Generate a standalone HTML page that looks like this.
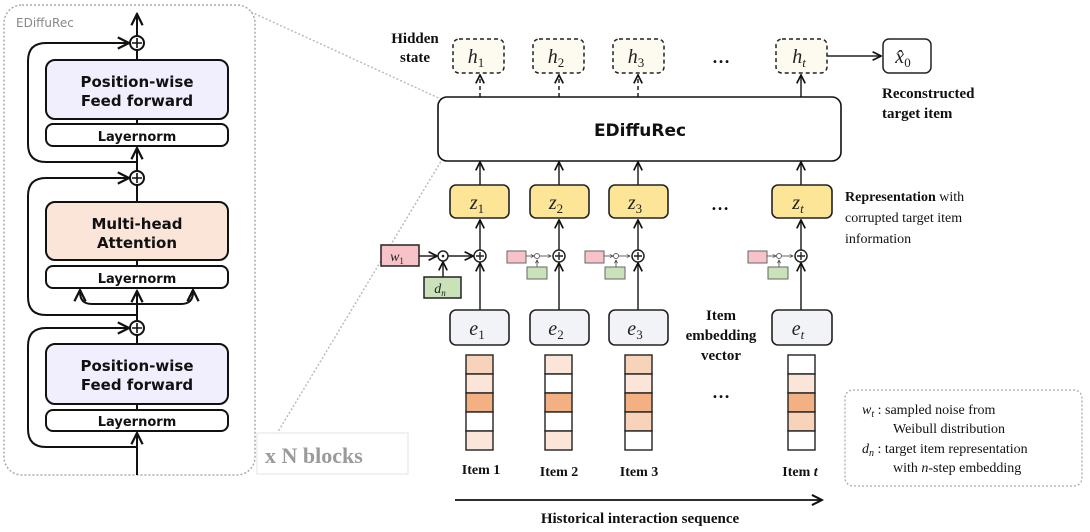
<!DOCTYPE html>
<html><head><meta charset="utf-8"><style>
html,body{margin:0;padding:0;background:#fff;}
svg{display:block;}
.s{font-family:"DejaVu Sans","Liberation Sans",sans-serif;font-weight:bold;fill:#111;}
.t{font-family:"Liberation Serif",serif;fill:#111;}
.b{font-weight:bold;}
.m{font-family:"Liberation Serif",serif;font-style:italic;fill:#222;}
</style></head><body>
<svg width="1090" height="532" viewBox="0 0 1090 532" xmlns="http://www.w3.org/2000/svg">
<defs>
<marker id="a" viewBox="0 0 10 10" refX="9" refY="5" markerWidth="7" markerHeight="7" orient="auto-start-reverse"><path d="M1,1 L9,5 L1,9" fill="none" stroke="#111" stroke-width="1.6"/></marker>
<marker id="as" viewBox="0 0 10 10" refX="9" refY="5" markerWidth="4" markerHeight="4" orient="auto"><path d="M1,1 L9,5 L1,9" fill="none" stroke="#333" stroke-width="1.6"/></marker>
</defs>
<!-- left panel -->
<rect x="4" y="5" width="251" height="470" rx="18" fill="none" stroke="#aaa" stroke-width="1.5" stroke-dasharray="2,2"/>
<text x="16" y="27" font-family="DejaVu Sans,sans-serif" font-size="12" fill="#888">EDiffuRec</text>
<line x1="251" y1="12" x2="443" y2="100" stroke="#bbb" stroke-width="1.5" stroke-dasharray="2,2"/>
<line x1="258" y1="465" x2="443" y2="158" stroke="#bbb" stroke-width="1.5" stroke-dasharray="2,2"/>
<rect x="257" y="433" width="151" height="41" fill="#fff" stroke="#e3e3e3"/>
<text x="265" y="463" class="t b" font-size="22" style="fill:#9a9a9a">x N blocks</text>
<g stroke="#111" stroke-width="2" fill="none">
<line x1="137" y1="475" x2="137" y2="433" marker-end="url(#a)"/>
<line x1="137" y1="410" x2="137" y2="404"/>
<line x1="137" y1="344" x2="137" y2="335"/>
<line x1="137" y1="321" x2="137" y2="291" marker-end="url(#a)"/>
<line x1="137" y1="266" x2="137" y2="260"/>
<line x1="137" y1="202" x2="137" y2="185"/>
<line x1="137" y1="171" x2="137" y2="148" marker-end="url(#a)"/>
<line x1="137" y1="124" x2="137" y2="119"/>
<line x1="137" y1="60" x2="137" y2="50"/>
<line x1="137" y1="36" x2="137" y2="14" marker-end="url(#a)"/>
<path d="M137,447 H46 Q28,447 28,429 V346 Q28,328 46,328 H129" marker-end="url(#a)"/>
<path d="M137,315 H46 Q28,315 28,297 V196 Q28,178 46,178 H129" marker-end="url(#a)"/>
<path d="M137,162 H46 Q28,162 28,144 V61 Q28,43 46,43 H129" marker-end="url(#a)"/>
<path d="M137,304 H92 Q80,304 80,292 V290" marker-end="url(#a)"/>
<path d="M137,304 H181 Q193,304 193,292 V290" marker-end="url(#a)"/>
</g>
<g stroke="#111" stroke-width="2" fill="#fff">
<circle cx="137" cy="43" r="7"/><circle cx="137" cy="178" r="7"/><circle cx="137" cy="328" r="7"/>
</g>
<g stroke="#111" stroke-width="1.6">
<path d="M132,43H142M137,38V48M132,178H142M137,173V183M132,328H142M137,323V333"/>
</g>
<g stroke="#111" stroke-width="2">
<rect x="46" y="60" width="182" height="59" rx="9" fill="#f1effd"/>
<rect x="46" y="124" width="182" height="22" rx="7" fill="#fff"/>
<rect x="46" y="202" width="182" height="58" rx="9" fill="#fbe5d9"/>
<rect x="46" y="266" width="182" height="22" rx="7" fill="#fff"/>
<rect x="46" y="344" width="182" height="60" rx="9" fill="#f1effd"/>
<rect x="46" y="410" width="182" height="21" rx="7" fill="#fff"/>
</g>
<g class="s" text-anchor="middle">
<text x="137" y="87" font-size="15">Position-wise</text><text x="137" y="106" font-size="15">Feed forward</text>
<text x="137" y="141" font-size="13">Layernorm</text>
<text x="137" y="229" font-size="15">Multi-head</text><text x="137" y="248" font-size="15">Attention</text>
<text x="137" y="283" font-size="13">Layernorm</text>
<text x="137" y="371" font-size="15">Position-wise</text><text x="137" y="390" font-size="15">Feed forward</text>
<text x="137" y="426" font-size="13">Layernorm</text>
</g>
<!-- right -->
<text x="415" y="43" class="t b" font-size="15" text-anchor="middle">Hidden</text>
<text x="415" y="62" class="t b" font-size="15" text-anchor="middle">state</text>
<g stroke="#222" stroke-width="1.5" fill="#fdfbef" stroke-dasharray="4,3">
<rect x="453" y="39" width="51" height="34" rx="6"/><rect x="533" y="39" width="51" height="34" rx="6"/>
<rect x="613" y="39" width="51" height="34" rx="6"/><rect x="776" y="39" width="51" height="34" rx="6"/>
</g>
<rect x="883" y="39" width="48" height="34" rx="6" fill="#fff" stroke="#222" stroke-width="1.5"/>
<g class="m" font-size="20" text-anchor="middle">
<text x="476" y="63">h<tspan font-size="13" font-style="normal" dy="4">1</tspan></text>
<text x="556" y="63">h<tspan font-size="13" font-style="normal" dy="4">2</tspan></text>
<text x="636" y="63">h<tspan font-size="13" font-style="normal" dy="4">3</tspan></text>
<text x="799" y="63">h<tspan font-size="13" dy="4">t</tspan></text>
<text x="903" y="63">x̂<tspan font-size="13" font-style="normal" dy="4">0</tspan></text>
</g>
<text x="721" y="63" class="t b" font-size="18" text-anchor="middle">…</text>
<g stroke="#222" stroke-width="1.5" fill="none">
<line x1="480" y1="97" x2="480" y2="75" stroke-dasharray="4,3" marker-end="url(#a)"/>
<line x1="559" y1="97" x2="559" y2="75" stroke-dasharray="4,3" marker-end="url(#a)"/>
<line x1="638" y1="97" x2="638" y2="75" stroke-dasharray="4,3" marker-end="url(#a)"/>
<line x1="801" y1="97" x2="801" y2="75" marker-end="url(#a)"/>
<line x1="827" y1="56" x2="881" y2="56" marker-end="url(#a)"/>
</g>
<text x="882" y="98" class="t b" font-size="15">Reconstructed</text>
<text x="882" y="118" class="t b" font-size="15">target item</text>
<rect x="438" y="97" width="403" height="64" rx="9" fill="#fff" stroke="#111" stroke-width="1.6"/>
<text x="640" y="136" class="s" font-size="17" text-anchor="middle">EDiffuRec</text>
<!-- columns -->
<g stroke="#222" stroke-width="1.5" fill="none">
<line x1="480" y1="185" x2="480" y2="162" marker-end="url(#a)"/>
<line x1="559" y1="185" x2="559" y2="162" marker-end="url(#a)"/>
<line x1="638" y1="185" x2="638" y2="162" marker-end="url(#a)"/>
<line x1="801" y1="185" x2="801" y2="162" marker-end="url(#a)"/>
<line x1="480" y1="250" x2="480" y2="220" marker-end="url(#a)"/>
<line x1="559" y1="250" x2="559" y2="220" marker-end="url(#a)"/>
<line x1="638" y1="250" x2="638" y2="220" marker-end="url(#a)"/>
<line x1="801" y1="250" x2="801" y2="220" marker-end="url(#a)"/>
<line x1="480" y1="310" x2="480" y2="263" marker-end="url(#a)"/>
<line x1="559" y1="310" x2="559" y2="263" marker-end="url(#a)"/>
<line x1="638" y1="310" x2="638" y2="263" marker-end="url(#a)"/>
<line x1="801" y1="310" x2="801" y2="263" marker-end="url(#a)"/>
<line x1="419" y1="256" x2="437" y2="256" marker-end="url(#a)"/>
<line x1="448" y1="256" x2="473" y2="256" marker-end="url(#a)"/>
<line x1="443" y1="277" x2="443" y2="262" marker-end="url(#a)"/>
</g>
<g stroke="#222" stroke-width="1.6" fill="#fce597">
<rect x="450" y="185" width="59" height="33" rx="6"/><rect x="530" y="185" width="59" height="33" rx="6"/>
<rect x="609" y="185" width="59" height="33" rx="6"/><rect x="772" y="185" width="60" height="33" rx="6"/>
</g>
<g stroke="#222" stroke-width="1.6" fill="#f2f3f7">
<rect x="450" y="310" width="59" height="35" rx="6"/><rect x="530" y="310" width="59" height="35" rx="6"/>
<rect x="609" y="310" width="59" height="35" rx="6"/><rect x="772" y="310" width="60" height="35" rx="6"/>
</g>
<g class="m" font-size="20" text-anchor="middle">
<text x="477" y="209">z<tspan font-size="13" font-style="normal" dy="4">1</tspan></text>
<text x="556" y="209">z<tspan font-size="13" font-style="normal" dy="4">2</tspan></text>
<text x="635" y="209">z<tspan font-size="13" font-style="normal" dy="4">3</tspan></text>
<text x="798" y="209">z<tspan font-size="13" dy="4">t</tspan></text>
<text x="477" y="335">e<tspan font-size="13" font-style="normal" dy="4">1</tspan></text>
<text x="556" y="335">e<tspan font-size="13" font-style="normal" dy="4">2</tspan></text>
<text x="635" y="335">e<tspan font-size="13" font-style="normal" dy="4">3</tspan></text>
<text x="798" y="335">e<tspan font-size="13" dy="4">t</tspan></text>
</g>
<text x="720" y="210" class="t b" font-size="18" text-anchor="middle">…</text>
<rect x="381" y="245" width="38" height="21" fill="#f8c3c8" stroke="#222" stroke-width="1.5"/>
<rect x="424" y="277" width="37" height="21" fill="#c9e2b9" stroke="#222" stroke-width="1.5"/>
<text x="397" y="261" class="m" font-size="14" text-anchor="middle">w<tspan font-size="9" font-style="normal" dy="3">1</tspan></text>
<text x="440" y="293" class="m" font-size="14" text-anchor="middle">d<tspan font-size="9" dy="3">n</tspan></text>
<circle cx="443" cy="256" r="5" fill="#fff" stroke="#222" stroke-width="1.5"/><circle cx="443" cy="256" r="1.3" fill="#222"/>
<g stroke="#222" stroke-width="1.5" fill="#fff">
<circle cx="480" cy="256" r="6"/><circle cx="559" cy="256" r="6"/><circle cx="638" cy="256" r="6"/><circle cx="801" cy="256" r="6"/>
</g>
<g stroke="#222" stroke-width="1.4"><path d="M476,256h8M480,252v8M555,256h8M559,252v8M634,256h8M638,252v8M797,256h8M801,252v8"/></g>
<g stroke="#666" stroke-width="1">
<g transform="translate(559,0)">
<rect x="-52" y="251" width="19" height="12" fill="#f8c3c8"/><rect x="-32" y="267" width="20" height="12" fill="#c9e2b9"/>
<line x1="-33" y1="256" x2="-25" y2="256" marker-end="url(#as)"/><line x1="-19" y1="256" x2="-8" y2="256" marker-end="url(#as)"/><line x1="-22" y1="267" x2="-22" y2="260" marker-end="url(#as)"/>
<circle cx="-22" cy="256" r="2.5" fill="#fff"/></g>
<g transform="translate(638,0)">
<rect x="-53" y="251" width="19" height="12" fill="#f8c3c8"/><rect x="-33" y="267" width="20" height="12" fill="#c9e2b9"/>
<line x1="-34" y1="256" x2="-25" y2="256" marker-end="url(#as)"/><line x1="-19" y1="256" x2="-8" y2="256" marker-end="url(#as)"/><line x1="-22" y1="267" x2="-22" y2="260" marker-end="url(#as)"/>
<circle cx="-22" cy="256" r="2.5" fill="#fff"/></g>
<g transform="translate(801,0)">
<rect x="-53" y="251" width="19" height="12" fill="#f8c3c8"/><rect x="-33" y="267" width="20" height="12" fill="#c9e2b9"/>
<line x1="-34" y1="256" x2="-25" y2="256" marker-end="url(#as)"/><line x1="-19" y1="256" x2="-8" y2="256" marker-end="url(#as)"/><line x1="-22" y1="267" x2="-22" y2="260" marker-end="url(#as)"/>
<circle cx="-22" cy="256" r="2.5" fill="#fff"/></g>
</g>
<g stroke="#222" stroke-width="1.4">
<rect x="466" y="355" width="27" height="19" fill="#f7d3b9"/><rect x="466" y="374" width="27" height="19" fill="#fbe5d9"/><rect x="466" y="393" width="27" height="19" fill="#f3b183"/><rect x="466" y="412" width="27" height="19" fill="#fff"/><rect x="466" y="431" width="27" height="19" fill="#fbe5d9"/>
<rect x="545" y="355" width="27" height="19" fill="#fbe5d9"/><rect x="545" y="374" width="27" height="19" fill="#fff"/><rect x="545" y="393" width="27" height="19" fill="#f3b183"/><rect x="545" y="412" width="27" height="19" fill="#fff"/><rect x="545" y="431" width="27" height="19" fill="#fbe5d9"/>
<rect x="625" y="355" width="27" height="19" fill="#f7d3b9"/><rect x="625" y="374" width="27" height="19" fill="#fbe5d9"/><rect x="625" y="393" width="27" height="19" fill="#f3b183"/><rect x="625" y="412" width="27" height="19" fill="#f7d3b9"/><rect x="625" y="431" width="27" height="19" fill="#fff"/>
<rect x="788" y="355" width="27" height="19" fill="#fff"/><rect x="788" y="374" width="27" height="19" fill="#fbe5d9"/><rect x="788" y="393" width="27" height="19" fill="#f3b183"/><rect x="788" y="412" width="27" height="19" fill="#f7d3b9"/><rect x="788" y="431" width="27" height="19" fill="#fff"/>
</g>
<g class="t b" font-size="14" text-anchor="middle">
<text x="481" y="474">Item 1</text><text x="559" y="476">Item 2</text><text x="639" y="476">Item 3</text><text x="800" y="476">Item <tspan font-style="italic">t</tspan></text>
<text x="721" y="320" font-size="15">Item</text><text x="721" y="340" font-size="15">embedding</text><text x="721" y="360" font-size="15">vector</text>
<text x="721" y="398" font-size="18">…</text>
<text x="640" y="523" font-size="15">Historical interaction sequence</text>
</g>
<line x1="455" y1="500" x2="822" y2="500" stroke="#111" stroke-width="1.8" marker-end="url(#a)"/>
<g class="t" font-size="14">
<text x="845" y="201"><tspan font-weight="bold">Representation</tspan> with</text>
<text x="845" y="222">corrupted target item</text>
<text x="845" y="243">information</text>
</g>
<rect x="845" y="390" width="237" height="96" rx="8" fill="none" stroke="#aaa" stroke-width="1.3" stroke-dasharray="2,2"/>
<g class="t" font-size="14">
<text x="862" y="414"><tspan font-style="italic">w<tspan font-size="10" dy="3">t</tspan></tspan><tspan dy="-3"> : sampled noise from</tspan></text>
<text x="893" y="433">Weibull distribution</text>
<text x="862" y="453"><tspan font-style="italic">d<tspan font-size="10" dy="3">n</tspan></tspan><tspan dy="-3"> : target item representation</tspan></text>
<text x="893" y="472">with <tspan font-style="italic">n</tspan>-step embedding</text>
</g>
</svg>
</body></html>
